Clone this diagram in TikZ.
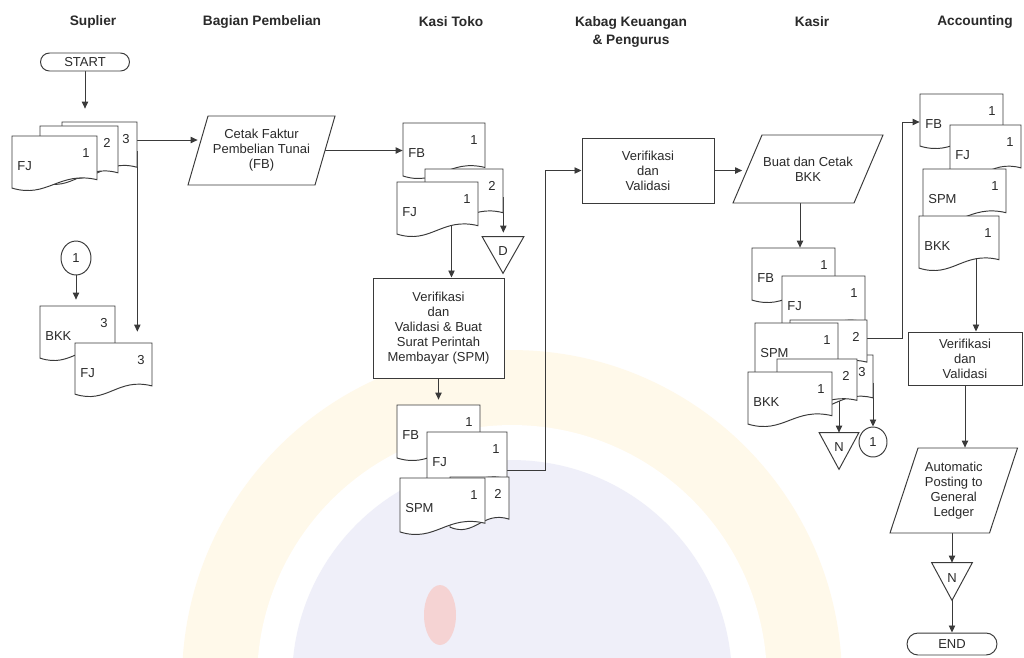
\documentclass[tikz,border=0pt]{standalone}
\usepackage{fontspec}
\setmainfont{Liberation Sans}
\usetikzlibrary{arrows.meta,calc,shapes.misc,shapes.geometric}
\pgfdeclarelayer{wm}
\pgfdeclarelayer{bg}
\pgfsetlayers{wm,bg,main}
\definecolor{lc}{HTML}{3A3A3A}
\definecolor{tc}{HTML}{2A2A2A}
\definecolor{wmy}{HTML}{FFF9EA}
\definecolor{wmb}{HTML}{EFEFF9}
\definecolor{wmr}{HTML}{F5D3D3}
\tikzset{
  every node/.style={font=\fontsize{7.4}{8.6}\selectfont, text=tc},
  line/.style={draw=lc, line width=0.55pt},
  arr/.style={line, -{Triangle[length=4pt,width=3.6pt]}},
  hdr/.style={font=\bfseries\fontsize{7.8}{10.4}\selectfont, align=center},
  box/.style={line, fill=white, rectangle, inner sep=0pt, align=center},
  ghost/.style={rectangle, inner sep=0pt, draw=none, align=center},
  term/.style={line, fill=white, rounded rectangle, inner sep=0pt},
  conn/.style={line, fill=white, ellipse, inner sep=0pt},
  docout/.style={line, fill=white},
  lbl/.style={inner sep=0pt},
}
% document symbol: name, x0, y0, x1, y1, number, label
\newcommand\Doc[7]{%
  \path[docout] (#2,#3) -- (#4,#3) -- ({#4},{#3+0.78*(#5-#3)})
    .. controls ({#4-0.45*(#4-#2)},{#3+0.62*(#5-#3)}) and ({#2+0.42*(#4-#2)},{#3+1.12*(#5-#3)})
    .. ({#2},{#3+0.93*(#5-#3)}) -- cycle;
  \node[ghost, minimum width={(#4-#2)*0.02cm}, minimum height={(#5-#3)*0.02cm}] (#1) at ({(#2+#4)/2},{(#3+#5)/2}) {};
  \node[lbl] (#1n) at ({#4-11},{#3+17}) {#6};
  \node[lbl, anchor=west] (#1m) at ({#2+5},{#3+30}) {#7};
}
% parallelogram: name, cx, cy, mid width, height, slant, text
\newcommand\Para[7]{%
  \path[docout] ({#2-#4/2+#6/2},{#3-#5/2}) -- ({#2+#4/2+#6/2},{#3-#5/2})
    -- ({#2+#4/2-#6/2},{#3+#5/2}) -- ({#2-#4/2-#6/2},{#3+#5/2}) -- cycle;
  \node[ghost, minimum width={#4*0.02cm}, minimum height={#5*0.02cm}] (#1) at (#2,#3) {#7};
}
% off-page triangle: name, cx, ytop, width, height, text
\newcommand\Tri[6]{%
  \node[ghost, minimum width={#4*0.02cm}, minimum height={#5*0.02cm}] (#1) at ({#2},{#3+#5/2}) {};
  \path[docout] (#1.north west) -- (#1.north east) -- (#1.south) -- cycle;
  \node[lbl] (#1t) at ({#2},{#3+#5*0.4}) {#6};
}
\begin{document}
\begin{tikzpicture}[x=0.02cm,y=-0.02cm]
\useasboundingbox (0,0) rectangle (1024,657);
\begin{pgfonlayer}{wm}
  \fill[white] (0,0) rectangle (1024,657);
  \begin{scope}
    \clip (0,0) rectangle (1024,657);
    \fill[wmy] (512,680) circle[radius=6.6cm];
    \fill[white] (512,680) circle[radius=5.1cm];
    \fill[wmb] (512,680) circle[radius=4.4cm];
    \fill[wmr] (440,615) ellipse[x radius=0.32cm, y radius=0.6cm];
  \end{scope}
\end{pgfonlayer}

% headers
\node[hdr] (h1) at (93,22) {Suplier};
\node[hdr] (h2) at (262,22) {Bagian Pembelian};
\node[hdr] (h3) at (451,22) {Kasi Toko};
\node[hdr] (h4) at (631,32) {Kabag Keuangan\\\& Pengurus};
\node[hdr] (h5) at (812,22) {Kasir};
\node[hdr] (h6) at (975,22) {Accounting};

% Suplier
\node[term, minimum width=1.78cm, minimum height=0.36cm] (start) at (85,62) {START};
\Doc{s3}{62}{122}{137}{180}{3}{}
\Doc{s2}{40}{126}{118}{186}{2}{}
\Doc{s1}{12}{136}{97}{192}{1}{FJ}
\node[conn, minimum width=0.6cm, minimum height=0.68cm] (sc1) at (76,258) {1};
\Doc{sbkk}{40}{306}{115}{362}{3}{BKK}
\Doc{sfj3}{75}{343}{152}{398}{3}{FJ}

% Bagian Pembelian
\Para{cetak}{261.5}{150.5}{127}{69}{20}{Cetak Faktur\\Pembelian Tunai\\(FB)}

% Kasi Toko
\Doc{kfb}{403}{123}{485}{180}{1}{FB}
\Doc{kfj2}{425}{169}{503}{225}{2}{}
\Doc{kfj1}{397}{182}{478}{238}{1}{FJ}
\Tri{triD}{503}{237}{41}{36}{D}
\node[box, minimum width=2.62cm, minimum height=2cm] (kver) at (438.5,328) {Verifikasi\\dan\\Validasi \& Buat\\Surat Perintah\\Membayar (SPM)};
\Doc{kfb2}{397}{405}{480}{462}{1}{FB}
\Doc{kfj}{427}{432}{507}{492}{1}{FJ}
\Doc{kspm2}{450}{477}{509}{531}{2}{}
\Doc{kspm1}{400}{478}{485}{536}{1}{SPM}

% Kabag Keuangan
\node[box, minimum width=2.64cm, minimum height=1.3cm] (kab) at (648,170.5) {Verifikasi\\dan\\Validasi};

% Kasir
\Para{bkkp}{808}{169}{121}{68}{29}{Buat dan Cetak\\BKK}
\Doc{kafb}{752}{248}{835}{304}{1}{FB}
\Doc{kafj}{782}{276}{865}{335}{1}{FJ}
\Doc{kabkk3}{800}{355}{873}{410}{3}{}
\Doc{kaspm2}{790}{320}{867}{374}{2}{}
\Doc{kaspm1}{755}{323}{838}{378}{1}{SPM}
\Doc{kabkk2}{777}{359}{857}{412}{2}{}
\Doc{kabkk1}{748}{372}{832}{428}{1}{BKK}
\Tri{kN}{839}{433}{39}{36}{N}
\node[conn, minimum width=0.56cm, minimum height=0.6cm] (kc1) at (873,442) {1};

% Accounting
\Doc{acfb}{920}{94}{1003}{150}{1}{FB}
\Doc{acfj}{950}{125}{1021}{180}{1}{FJ}
\Doc{acspm}{923}{169}{1006}{225}{1}{SPM}
\Doc{acbkk}{919}{216}{999}{272}{1}{BKK}
\node[box, minimum width=2.28cm, minimum height=1.06cm] (acver) at (965,358.5) {Verifikasi\\dan\\Validasi};
\Para{acpost}{953.75}{490.5}{99.5}{85}{28}{Automatic\\Posting to\\General\\Ledger}
\Tri{aN}{952}{563}{40}{37}{N}
\node[term, minimum width=1.8cm, minimum height=0.44cm] (end) at (952,644) {END};

% connectors
\begin{pgfonlayer}{bg}
  \draw[arr, shorten >=0.34cm] (start.south) -- (start.south |- s2.north);
  \draw[arr] ([yshift=0.22cm]s3.east) -- ([yshift=0.22cm]s3.east -| cetak.west);
  \draw[arr, shorten >=0.22cm] (s3.east) -- (s3.east |- sfj3.north);
  \draw[arr, shorten >=0.12cm] (sc1.south) -- (sc1.south |- sbkk.north);
  \draw[arr] (cetak.east) -- (cetak.east -| kfb.west);
  \draw[arr, shorten >=0.08cm] (kfj2.east) -- (kfj2.east |- triD.north);
  \draw[arr] ([xshift=0.28cm]kfj1.center) -- ([xshift=0.28cm]kfj1.center |- kver.north);
  \draw[arr, shorten >=0.1cm] (kver.south) -- (kver.south |- kfb2.north);
  \draw[arr] ([yshift=-0.16cm]kfj.east) -- ++(38,0) |- (kab.west);
  \draw[arr, shorten >=0.1cm] (kab.east) -- (kab.east -| bkkp.west);
  \draw[arr] ([xshift=-0.16cm]bkkp.south) -- ([xshift=-0.16cm]bkkp.south |- kafb.north);
  \draw[arr] ([yshift=0.18cm]kaspm2.east) -- ++(35,0) |- (acfb.west);
  \draw[arr] (kN.north |- kabkk2.center) -- (kN.north);
  \draw[arr] (kc1.north |- kabkk3.center) -- (kc1.north);
  \draw[arr] ([xshift=0.34cm]acbkk.center) -- ([xshift=0.34cm]acbkk.center |- acver.north);
  \draw[arr] (acver.south) -- (acver.south |- acpost.north);
  \draw[arr] (acpost.south -| aN.north) -- (aN.north);
  \draw[arr] (aN.south) -- (end.north);
\end{pgfonlayer}
\end{tikzpicture}
\end{document}
